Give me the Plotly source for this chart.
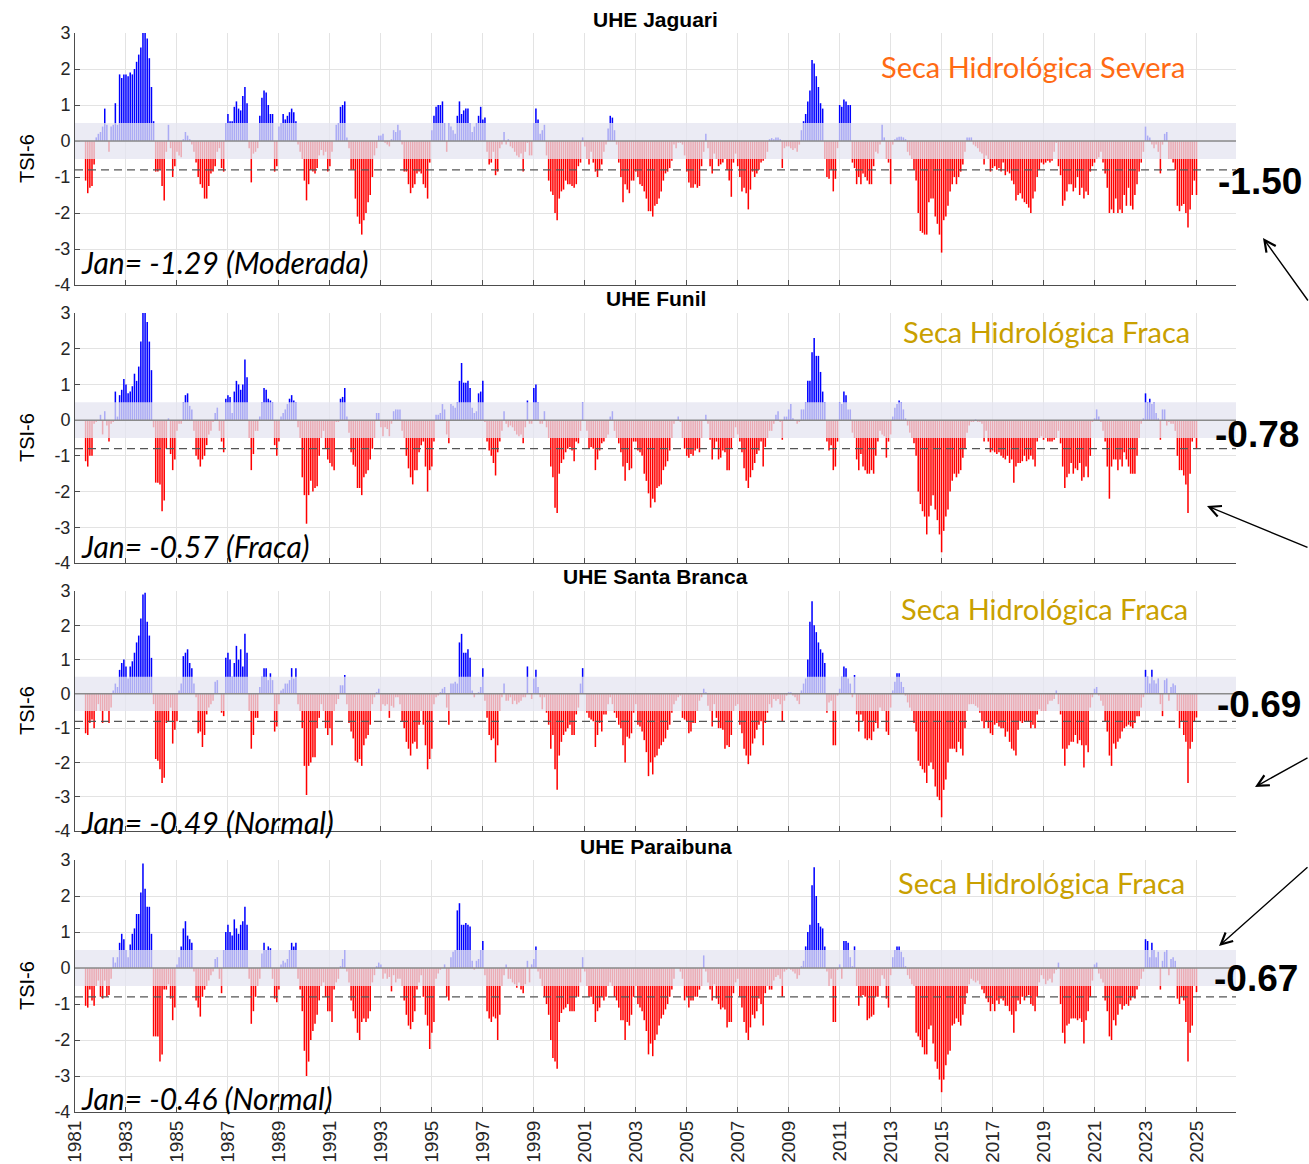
import plotly.graph_objects as go

# ---------------- DATA ----------------
start_year = 1981
odd_years = list(range(1981, 2026, 2))
y_tick_values = [-4, -3, -2, -1, 0, 1, 2, 3]
y_tick_labels = ["-4", "-3", "-2", "-1", "0", "1", "2", "3"]

station_names = ["UHE Jaguari", "UHE Funil", "UHE Santa Branca", "UHE Paraibuna"]
jan_texts = ["Jan= -1.29 (Moderada)", "Jan= -0.57 (Fraca)", "Jan= -0.49 (Normal)", "Jan= -0.46 (Normal)"]
class_texts = ["Seca Hidrológica Severa", "Seca Hidrológica Fraca", "Seca Hidrológica Fraca", "Seca Hidrológica Fraca"]
current_values = ["-1.50", "-0.78", "-0.69", "-0.67"]
normal_band = 0.5
drought_threshold = -0.8

N = None
tsi_jaguari = [
    [N, N, N, N, N, -1.1, -1.45, -1.3, -1.25, -0.65, 0.1, 0.2],  # 1981
    [0.25, 0.4, 0.9, 0.45, -0.3, 0.4, 0.45, 1.05, 0.45, 1.85, 1.75, 1.85],
    [1.85, 1.8, 1.9, 1.85, 2.0, 2.2, 2.4, 2.6, 3.0, 3.0, 2.85, 2.3],
    [1.5, 0.55, -0.85, -0.85, -0.8, -1.25, -1.65, -0.3, 0.45, -0.2, -1.0, -0.7],
    [-0.3, -0.4, -0.45, 0.05, 0.25, 0.15, 0.05, -0.1, -0.3, -0.6, -1.0, -1.2],  # 1985
    [-1.3, -1.6, -1.6, -1.25, -0.9, -0.85, -0.7, -0.3, -0.2, -0.75, -0.85, 0.5],
    [0.75, 0.55, 0.55, 0.95, 1.1, 0.9, 0.85, 1.25, 1.5, 1.05, -0.2, -1.15],
    [-0.35, -0.3, -0.2, 0.7, 1.2, 1.4, 1.35, 1.0, 0.75, 0.75, -0.85, -0.7],
    [0.4, 0.5, 0.75, 0.6, 0.7, 0.8, 0.9, 0.8, 0.55, -0.1, -0.3, -0.5],
    [-1.1, -1.65, -1.2, -0.8, -0.85, -0.9, -0.75, -0.4, -0.25, -0.4, -0.3, -0.85],  # 1990
    [-0.7, -0.3, 0.0, 0.45, 0.5, 0.95, 1.0, 1.1, 0.1, -0.2, -0.8, -0.8],
    [-1.6, -2.1, -2.3, -2.6, -2.2, -2.0, -1.7, -1.5, -1.0, -0.4, -0.2, 0.15],
    [0.15, 0.2, -0.05, -0.1, -0.15, 0.05, 0.3, 0.25, 0.45, 0.3, -0.1, -0.85],
    [-0.85, -1.2, -1.45, -1.3, -1.2, -0.9, -0.85, -0.9, -1.2, -1.3, -1.6, -0.6],
    [0.3, 0.7, 0.95, 1.0, 1.0, 1.1, 0.5, -0.3, 0.5, 0.4, 0.3, 0.2],  # 1995
    [0.7, 1.1, 0.75, 0.85, 0.9, 0.9, 0.5, 0.25, 0.4, 0.5, 0.7, 0.95],
    [0.6, 0.65, -0.3, -0.65, -0.6, -0.3, -0.95, -0.85, -0.2, -0.1, 0.25, -0.1],
    [0.05, -0.15, -0.2, -0.3, -0.4, -0.45, -0.35, -0.85, -0.3, -0.05, -0.4, -0.4],
    [0.5, 0.9, 0.6, 0.2, 0.3, 0.45, -0.4, -1.1, -1.4, -1.5, -2.0, -2.2],
    [-1.6, -1.4, -1.35, -1.1, -1.2, -1.2, -1.25, -1.3, -1.2, -0.7, -0.6, 0.1],  # 2000
    [-0.15, -0.5, -0.65, -0.3, -0.6, -0.85, -1.0, -0.8, -0.65, -0.3, -0.1, 0.35],
    [0.7, 0.65, 0.3, -0.1, -0.6, -1.0, -1.7, -1.2, -1.35, -1.45, -1.1, -1.1],
    [-0.85, -1.0, -1.2, -1.25, -1.4, -1.6, -1.95, -1.95, -2.1, -1.8, -1.75, -1.6],
    [-1.4, -1.1, -0.9, -0.85, -0.75, -0.55, -0.1, -0.2, -0.05, -0.05, -0.1, -0.4],
    [-0.85, -1.15, -1.3, -1.3, -1.2, -1.3, -1.25, -0.7, -0.3, 0.2, -0.2, -0.7],  # 2005
    [-0.9, -0.35, -0.5, -0.7, -0.65, -0.6, -0.5, -0.8, -1.1, -1.55, -0.6, -0.35],
    [-0.7, -1.0, -1.4, -1.3, -1.45, -1.9, -1.35, -0.85, -1.0, -0.9, -0.8, -0.6],
    [-0.55, -0.5, -0.3, 0.05, 0.08, 0.05, 0.1, 0.1, 0.05, -0.75, -0.2, -0.15],
    [-0.15, -0.2, -0.25, -0.2, -0.3, -0.1, 0.3, 0.55, 0.75, 1.1, 1.4, 2.25],
    [2.15, 1.8, 1.5, 1.05, 0.9, -0.5, -1.0, -1.05, -0.8, -1.4, -1.05, -0.2],  # 2010
    [1.0, 0.95, 1.15, 1.1, 1.0, 1.0, -0.6, -0.75, -1.2, -1.0, -1.2, -0.9],
    [-1.0, -1.1, -1.2, -1.2, -0.7, -0.3, -0.35, -0.1, 0.45, 0.1, -0.5, -0.6],
    [-1.2, -0.1, 0.05, 0.1, 0.12, 0.12, 0.1, 0.05, -0.3, -0.4, -0.5, -0.8],
    [-1.1, -2.0, -2.5, -2.55, -2.6, -2.6, -1.7, -1.6, -1.6, -2.1, -2.3, -2.6],
    [-3.1, -2.2, -2.1, -1.8, -1.4, -1.2, -1.0, -1.2, -1.0, -0.85, -0.65, -0.3],  # 2015
    [0.1, 0.1, 0.1, -0.1, -0.15, -0.2, -0.3, -0.35, -0.65, -0.4, -0.5, -0.85],
    [-0.75, -0.7, -0.8, -0.75, -0.85, -0.6, -0.95, -0.85, -0.9, -1.1, -1.2, -1.65],
    [-1.5, -1.45, -1.6, -1.7, -1.75, -1.85, -2.0, -1.6, -1.4, -1.0, -0.8, -0.6],
    [-0.65, -0.6, -0.55, -0.6, -0.55, -0.3, -0.05, -0.7, -0.95, -1.8, -1.65, -1.4],
    [-1.2, -1.2, -1.4, -1.3, -1.0, -1.5, -1.3, -1.6, -1.4, -1.5, -0.85, -0.7],  # 2020
    [-0.6, -0.5, -0.45, -0.3, -0.6, -0.9, -1.3, -2.0, -1.9, -2.0, -1.6, -2.0],
    [-1.9, -2.0, -1.5, -1.8, -1.3, -1.8, -1.9, -1.5, -1.2, -0.85, -0.6, -0.3],
    [0.4, 0.15, 0.1, -0.1, -0.2, -0.1, -0.3, -0.9, -0.1, 0.2, 0.25, -0.5],
    [-0.5, -0.6, -0.8, -1.8, -1.95, -1.8, -1.75, -2.0, -2.4, -1.9, -1.5, -1.1],
    [-1.5],  # 2025
]

tsi_funil = [
    [N, N, N, N, N, -1.15, -1.3, -1.0, -1.0, -0.1, -0.05, 0.0],  # 1981
    [0.15, -0.4, 0.25, -0.15, -0.6, -0.1, -0.05, 0.8, 0.1, 0.7, 0.85, 1.15],
    [1.0, 0.75, 0.8, 0.95, 1.3, 1.1, 1.5, 2.2, 3.0, 3.0, 2.75, 2.2],
    [1.4, -0.2, -1.75, -1.75, -1.8, -2.55, -2.25, -0.8, 0.05, -0.95, -1.4, -1.1],
    [-0.3, -0.1, -0.1, 0.5, 0.7, 0.75, 0.4, 0.3, -0.3, -1.0, -1.1, -1.3],  # 1985
    [-1.1, -1.0, -0.7, -0.4, -0.3, -0.05, 0.2, 0.35, -0.3, -0.6, -0.9, 0.6],
    [0.7, 0.65, 0.2, 0.8, 1.1, 1.0, 0.85, 1.0, 1.7, 1.2, -0.5, -1.4],
    [-0.95, -0.3, -0.3, 0.1, 0.5, 0.9, 0.85, 0.6, 0.55, 0.5, -0.7, -1.0],
    [-0.6, 0.1, 0.2, 0.3, 0.45, 0.6, 0.7, 0.55, 0.5, -0.2, -0.5, -1.6],
    [-2.1, -2.9, -2.1, -1.7, -2.0, -1.9, -1.85, -1.0, -0.5, -0.3, -0.8, -1.1],  # 1990
    [-1.2, -1.3, -1.4, -0.05, -0.05, 0.6, 0.65, 0.9, 0.1, -0.35, -0.9, -1.25],
    [-1.3, -1.9, -1.9, -2.1, -1.6, -1.5, -1.4, -1.1, -0.8, -0.5, 0.2, 0.2],
    [-0.2, -0.45, -0.2, -0.25, -0.45, -0.1, 0.25, 0.3, 0.3, 0.3, -0.3, -0.5],
    [-1.0, -1.35, -1.6, -1.8, -1.4, -1.4, -0.9, -0.7, -0.6, -1.3, -2.0, -1.4],
    [-1.3, -0.6, 0.15, 0.15, 0.2, 0.45, 0.3, -0.4, -0.65, 0.45, 0.4, 0.35],  # 1995
    [0.5, 1.1, 1.6, 1.05, 1.05, 1.1, 0.9, 0.35, 0.2, 0.25, 0.75, 0.8],
    [1.1, -0.05, -0.6, -0.85, -1.0, -1.2, -1.55, -0.9, -0.6, -0.3, 0.25, -0.1],
    [-0.2, -0.15, -0.2, -0.3, -0.4, -0.45, -0.4, -0.65, -0.2, 0.55, -0.1, -0.1],
    [0.9, 1.0, 0.5, -0.1, -0.1, 0.25, -0.2, -0.5, -1.3, -1.6, -2.45, -2.6],
    [-1.5, -1.2, -1.1, -0.9, -0.8, -0.75, -0.85, -1.15, -0.6, -0.65, -0.3, 0.5],  # 2000
    [0.0, -0.3, -0.8, -0.75, -0.8, -1.4, -1.1, -0.85, -0.65, -0.6, -0.5, -0.4],
    [0.1, 0.25, -0.3, -0.5, -0.65, -0.9, -1.3, -1.7, -1.2, -1.4, -1.35, -0.6],
    [-0.6, -0.85, -0.9, -1.0, -1.5, -1.7, -2.05, -2.45, -2.2, -2.3, -1.9, -1.85],
    [-1.8, -1.4, -1.3, -1.15, -0.85, -0.5, -0.1, 0.0, 0.1, -0.05, -0.5, -0.8],
    [-1.0, -1.05, -0.95, -1.0, -0.85, -0.8, -0.9, -0.5, 0.0, 0.15, -0.1, -0.55],  # 2005
    [-1.1, -0.8, -0.6, -1.1, -1.05, -0.85, -0.9, -1.4, -1.4, -0.8, -0.5, -0.2],
    [-0.4, -0.6, -0.9, -1.35, -1.7, -1.9, -1.6, -1.4, -1.2, -0.95, -0.85, -0.6],
    [-1.3, -0.75, -0.5, -0.3, -0.3, -0.1, 0.15, 0.25, -0.05, -0.55, 0.1, 0.1],
    [0.3, 0.45, 0.05, 0.0, -0.1, -0.05, 0.3, 0.3, 0.5, 1.1, 1.1, 1.9],
    [2.3, 1.8, 1.8, 1.35, 0.8, 0.5, -0.6, -0.85, -0.7, -1.4, -1.3, -0.6],  # 2010
    [0.5, 0.45, 0.8, 0.7, 0.3, 0.3, -0.35, -0.5, -1.1, -1.4, -0.95, -1.3],
    [-1.4, -1.5, -1.5, -1.4, -1.5, -1.0, -0.6, -0.3, -0.4, -0.45, -1.05, -0.6],
    [-0.4, 0.1, 0.35, 0.45, 0.55, 0.5, 0.3, 0.05, -0.15, -0.35, -0.5, -0.65],
    [-1.0, -2.0, -2.35, -2.55, -2.7, -3.2, -2.7, -2.4, -2.1, -2.5, -2.8, -3.2],
    [-3.7, -3.1, -2.7, -2.5, -2.0, -1.7, -1.5, -1.6, -1.5, -1.4, -1.05, -0.8],  # 2015
    [-0.35, -0.15, -0.05, -0.05, 0.02, -0.05, -0.05, -0.1, -0.6, -0.3, -0.6, -0.9],
    [-0.85, -0.9, -0.95, -0.9, -1.0, -1.05, -1.1, -1.0, -1.2, -1.1, -1.75, -1.3],
    [-1.2, -1.2, -1.15, -1.0, -1.15, -1.1, -1.0, -1.1, -1.3, -0.6, -0.5, -0.45],
    [-0.55, -0.5, -0.6, -0.6, -0.6, -0.55, -0.5, -0.3, -0.65, -1.3, -1.9, -1.6],
    [-1.5, -1.2, -1.5, -1.35, -1.4, -1.2, -1.7, -1.6, -1.3, -1.6, -1.0, -0.05],  # 2020
    [0.05, 0.3, 0.1, -0.05, -0.3, -0.6, -1.3, -2.2, -1.3, -1.1, -1.1, -1.4],
    [-1.1, -1.3, -0.9, -1.1, -1.3, -1.5, -1.5, -1.5, -1.0, -0.5, -0.1, 0.05],
    [0.75, 0.5, 0.6, 0.45, 0.5, 0.2, 0.05, -0.55, 0.3, 0.3, -0.15, -0.05],
    [-0.1, -0.1, -0.3, -1.0, -1.4, -1.4, -1.55, -1.8, -2.6, -1.5, -0.6, -0.5],
    [-0.78],  # 2025
]

tsi_santa_branca = [
    [N, N, N, N, N, -1.15, -1.2, -0.85, -0.75, -1.0, -0.5, -0.3],  # 1981
    [-0.5, -0.85, -0.5, -0.5, -0.85, -0.4, 0.1, 0.3, 0.2, 0.7, 0.9, 1.0],
    [0.8, 0.45, 0.8, 0.95, 1.2, 1.5, 1.7, 2.2, 2.9, 2.95, 2.1, 1.7],
    [1.05, -0.3, -1.9, -1.95, -2.2, -2.6, -2.45, -0.85, -0.8, -0.4, -1.45, -1.05],
    [-0.8, 0.1, 0.3, 1.1, 1.2, 1.3, 0.9, 0.75, 0.3, -0.1, -1.15, -1.1],  # 1985
    [-1.55, -1.2, -0.6, -0.4, -0.3, -0.2, 0.35, 0.4, 0.0, -0.55, -0.65, 1.05],
    [1.2, 1.0, 0.5, 0.9, 1.4, 1.0, 1.3, 0.8, 1.75, 1.2, -0.5, -1.6],
    [-1.2, -0.7, -0.7, 0.2, 0.5, 0.75, 0.75, 0.4, 0.6, 0.4, -1.1, -0.95],
    [-0.3, 0.1, 0.15, 0.3, 0.3, 0.4, 0.75, 0.45, 0.75, -0.3, -0.5, -1.0],
    [-2.1, -2.95, -2.1, -2.0, -1.85, -1.85, -1.0, -0.7, -0.3, -0.5, -1.0, -1.2],  # 1990
    [-1.0, -1.5, -0.5, -0.3, -0.15, 0.25, 0.25, 0.55, -0.3, -0.85, -1.1, -1.3],
    [-1.95, -2.0, -1.9, -2.1, -1.5, -1.3, -1.2, -0.9, -0.3, -0.1, 0.05, 0.15],
    [-0.5, -0.3, -0.35, -0.3, -0.7, -0.35, -0.4, -0.1, -0.1, -0.3, -0.8, -1.0],
    [-1.4, -1.6, -1.8, -1.45, -1.4, -1.6, -0.9, -0.5, -0.9, -1.5, -2.2, -1.9],
    [-1.6, -0.3, -0.1, -0.05, 0.05, 0.15, 0.2, -0.4, -0.9, 0.3, 0.3, 0.35],  # 1995
    [0.3, 1.5, 1.75, 1.2, 1.2, 1.3, 1.05, 0.1, -0.1, 0.0, 0.05, 0.2],
    [0.75, -0.2, -0.7, -1.2, -1.35, -1.3, -2.0, -1.5, -0.5, -0.1, 0.3, -0.2],
    [-0.2, -0.1, -0.3, -0.2, -0.3, -0.25, -0.2, -0.1, -0.1, 0.8, 0.0, -0.15],
    [0.45, 0.7, 0.2, -0.1, -0.45, -0.1, -0.55, -0.9, -1.6, -1.2, -2.2, -2.8],
    [-1.8, -1.4, -1.2, -1.1, -1.0, -0.9, -1.2, -1.2, -0.6, -0.4, 0.3, 0.75],  # 2000
    [0.0, -0.55, -0.7, -0.75, -0.8, -1.55, -1.2, -0.85, -1.1, -0.6, -0.6, -0.3],
    [-0.1, -0.3, -0.55, -0.7, -0.9, -1.0, -1.5, -2.0, -1.25, -1.3, -1.15, -0.55],
    [-0.3, -0.9, -0.95, -1.1, -1.35, -1.7, -2.4, -2.0, -2.35, -1.85, -1.8, -1.6],
    [-1.5, -1.4, -1.3, -1.05, -0.9, -0.55, -0.3, -0.2, -0.1, -0.05, -0.7, -0.75],
    [-0.8, -1.15, -1.1, -0.85, -0.85, -0.5, -0.2, -0.1, 0.15, 0.05, -0.35, -0.5],  # 2005
    [-0.95, -0.3, -0.7, -1.0, -1.0, -1.05, -1.6, -1.5, -1.55, -1.2, -0.5, -0.35],
    [-0.3, -0.9, -1.15, -1.6, -1.8, -2.05, -1.8, -1.45, -1.3, -1.05, -0.9, -0.8],
    [-1.5, -0.85, -0.55, -0.3, -0.4, -0.15, -0.2, -0.15, -0.3, -0.8, -0.2, -0.05],
    [0.05, 0.05, -0.05, -0.1, -0.2, -0.3, 0.1, 0.3, 0.45, 1.0, 2.1, 2.7],
    [2.0, 1.8, 1.5, 1.3, 1.2, 0.9, -0.55, -0.25, -0.2, -1.5, -1.5, -0.05],  # 2010
    [0.15, 0.5, 0.8, 0.75, 0.45, 0.3, -0.1, 0.55, -0.6, -1.1, -0.6, -0.8],
    [-1.3, -1.35, -1.3, -1.35, -1.1, -0.85, -1.0, -0.4, -0.5, -0.5, -1.1, -1.2],
    [-0.4, 0.1, 0.35, 0.6, 0.6, 0.35, 0.2, -0.05, -0.25, -0.4, -0.5, -0.85],
    [-1.1, -1.95, -2.1, -2.2, -2.3, -2.6, -2.1, -2.0, -2.2, -2.7, -3.0, -3.1],
    [-3.6, -2.8, -2.5, -2.0, -1.6, -1.6, -1.6, -1.7, -1.4, -1.6, -1.8, -1.0],  # 2015
    [-0.5, -0.3, -0.3, -0.3, -0.35, -0.4, -0.55, -0.8, -1.0, -0.8, -1.0, -1.15],
    [-1.2, -0.9, -0.85, -0.95, -1.0, -1.0, -1.25, -1.1, -1.4, -1.6, -1.65, -1.8],
    [-1.05, -0.8, -0.85, -0.8, -0.8, -0.8, -1.0, -0.9, -1.0, -0.6, -0.45, -0.5],
    [-0.5, -0.5, -0.3, -0.2, -0.2, -0.15, 0.1, -0.3, -0.6, -1.6, -2.1, -1.6],
    [-1.5, -1.4, -1.4, -1.2, -1.45, -1.35, -1.5, -2.15, -1.5, -1.7, -0.4, -0.1],  # 2020
    [0.15, 0.2, -0.05, -0.2, -0.35, -0.8, -1.1, -1.8, -2.1, -1.45, -1.6, -1.4],
    [-1.3, -1.1, -1.0, -0.95, -0.9, -0.95, -1.0, -0.85, -0.65, -0.65, -0.4, -0.1],
    [0.7, 0.5, 0.3, 0.7, 0.4, 0.3, 0.45, -0.3, -0.65, 0.4, 0.45, -0.2],
    [0.2, 0.3, 0.25, -0.5, -1.0, -0.8, -1.2, -1.4, -2.6, -1.6, -1.4, -0.8],
    [-0.69],  # 2025
]

tsi_paraibuna = [
    [N, N, N, N, N, -1.05, -1.1, -0.6, -0.9, -1.05, -0.5, -0.35],  # 1981
    [-0.8, -0.85, -0.35, -0.8, -0.75, -0.3, 0.3, 0.15, 0.3, 0.7, 0.95, 0.8],
    [0.5, 0.3, 0.65, 0.95, 1.1, 1.5, 1.5, 2.1, 2.9, 2.2, 1.7, 1.7],
    [0.95, -1.9, -1.9, -1.9, -2.6, -2.4, -0.6, -0.6, -0.45, -0.85, -1.45, -1.1],
    [0.1, 0.3, 0.6, 1.1, 1.3, 0.9, 0.8, 0.7, -0.1, -0.9, -1.1, -1.35],  # 1985
    [-0.8, -0.6, -0.5, -0.35, -0.2, -0.1, 0.25, 0.3, -0.3, -0.7, 0.5, 1.0],
    [1.2, 1.0, 0.9, 1.35, 1.1, 0.95, 1.2, 1.3, 1.7, 1.2, -0.3, -1.55],
    [-1.2, -0.8, -0.5, -0.3, 0.4, 0.7, 0.5, 0.6, 0.55, -0.3, -0.85, -0.95],
    [-0.6, 0.1, 0.2, 0.15, 0.25, 0.5, 0.7, 0.6, 0.7, -0.3, -0.6, -1.2],
    [-2.3, -3.0, -2.6, -2.0, -1.75, -1.55, -1.3, -0.9, -0.5, -0.4, -0.8, -1.2],  # 1990
    [-1.2, -1.5, -0.6, -0.4, -0.3, 0.05, 0.25, 0.5, -0.1, -0.4, -0.9, -1.2],
    [-1.4, -1.8, -2.0, -1.5, -1.4, -1.5, -1.4, -1.2, -0.4, -0.2, 0.05, 0.15],
    [0.1, -0.3, -0.15, -0.3, -0.25, -0.65, -0.2, -0.4, -0.3, -0.3, -0.5, -0.9],
    [-1.3, -1.6, -1.7, -1.5, -1.2, -0.6, -0.4, -0.2, -0.8, -1.3, -1.6, -2.25],
    [-1.8, -1.5, -0.3, -0.15, -0.05, 0.0, 0.1, -0.8, -0.9, 0.3, 0.45, 0.5],  # 1995
    [1.6, 1.8, 1.2, 1.2, 1.25, 1.2, 1.15, 0.2, -0.05, 0.2, 0.25, 0.5],
    [0.75, -0.2, -1.2, -1.4, -1.5, -1.35, -1.4, -2.0, -1.3, -0.5, -0.2, 0.1],
    [-0.3, -0.3, -0.4, -0.45, -0.55, -0.4, -0.6, -0.7, -0.45, 0.2, -0.4, 0.1],
    [0.25, 0.6, -0.1, -0.3, -0.5, -0.8, -1.0, -1.3, -2.0, -2.5, -2.6, -2.8],
    [-1.5, -1.25, -1.15, -1.1, -1.0, -1.2, -1.2, -1.2, -0.8, -0.8, -0.4, 0.3],  # 2000
    [-0.1, -0.5, -0.8, -0.8, -1.0, -1.5, -1.2, -1.1, -0.8, -0.9, -0.8, -0.5],
    [-0.4, -0.5, -0.8, -0.9, -1.1, -1.45, -1.45, -2.0, -1.5, -1.6, -1.3, -0.8],
    [-0.5, -1.0, -1.1, -1.2, -1.45, -1.75, -2.4, -2.1, -2.45, -2.0, -1.85, -1.6],
    [-1.4, -1.3, -1.15, -1.0, -0.8, -0.6, -0.3, 0.0, 0.0, -0.1, -0.3, -0.9],
    [-0.8, -1.1, -0.9, -0.9, -0.8, -0.8, -0.6, -0.5, 0.35, -0.1, -0.4, -0.6],  # 2005
    [-0.9, -0.45, -0.85, -1.0, -1.15, -1.1, -1.15, -1.65, -1.5, -1.5, -0.7, -0.4],
    [-0.3, -0.8, -1.1, -1.5, -1.8, -2.0, -1.65, -1.3, -1.4, -1.2, -0.85, -1.0],
    [-1.6, -0.7, -0.5, -0.6, -0.6, -0.35, -0.25, -0.2, -0.3, -0.8, -0.1, -0.05],
    [0.0, -0.05, -0.1, -0.15, -0.3, -0.2, 0.05, 0.2, 0.6, 1.0, 1.2, 2.3],
    [2.8, 2.0, 1.25, 1.15, 1.1, 0.6, -0.1, -0.5, -0.3, -1.5, -1.5, -0.05],  # 2010
    [0.1, -0.3, 0.75, 0.75, 0.7, 0.3, 0.05, 0.6, -0.5, -1.05, -0.8, -0.75],
    [-0.8, -1.45, -1.4, -1.35, -1.3, -0.8, -0.8, -0.5, -0.2, -0.3, -0.85, -1.1],
    [-0.2, 0.3, 0.5, 0.6, 0.6, 0.45, 0.3, 0.05, -0.2, -0.3, -0.45, -0.5],
    [-1.8, -1.9, -2.0, -2.2, -2.4, -2.4, -1.7, -1.6, -2.1, -2.6, -2.8, -3.1],
    [-3.45, -3.1, -2.7, -2.4, -2.3, -1.6, -1.55, -1.4, -1.5, -1.6, -1.3, -1.0],  # 2015
    [-0.7, -0.45, -0.3, -0.35, -0.4, -0.35, -0.45, -0.6, -0.7, -0.85, -0.95, -1.2],
    [-1.0, -1.2, -0.9, -1.0, -0.85, -0.9, -1.05, -1.05, -1.2, -1.3, -1.8, -1.2],
    [-0.9, -1.0, -0.8, -0.9, -0.8, -0.75, -1.0, -1.05, -1.2, -0.8, -0.4, -0.2],
    [-0.3, -0.45, -0.35, -0.3, -0.4, -0.15, -0.05, 0.15, -1.0, -1.8, -2.1, -1.6],
    [-1.55, -1.4, -1.4, -1.4, -1.45, -1.4, -1.5, -2.1, -1.45, -1.2, -0.8, -0.35],  # 2020
    [0.1, 0.15, -0.15, -0.3, -0.4, -0.9, -1.2, -1.9, -2.0, -1.45, -1.6, -1.3],
    [-1.0, -1.15, -1.05, -1.0, -1.05, -0.9, -0.8, -0.85, -0.6, -0.5, -0.3, -0.1],
    [0.8, 0.75, 0.3, 0.7, 0.5, 0.3, 0.45, -0.6, 0.2, 0.45, 0.5, -0.2],
    [0.25, 0.3, 0.2, -0.85, -1.0, -0.8, -0.9, -1.5, -2.6, -1.8, -1.6, -0.5],
    [-0.67],  # 2025
]

all_series = [tsi_jaguari, tsi_funil, tsi_santa_branca, tsi_paraibuna]

# ---------------- STYLE ----------------
W, H = 1309, 1164
PLOT_L, PLOT_R = 75, 1236
PANEL_PX = [(33, 285), (313, 563), (591, 831), (860, 1112)]
X_RANGE = [1981, 2026.55]
BLUE, RED = "#0000ff", "#ff0000"
class_colors = ["#ff6a13", "#c9a000", "#c9a000", "#c9a000"]
jan_y_px = [262, 546, 822, 1098]
class_pos_px = [(1033, 66), (1046, 331), (1044, 608), (1041, 882)]
val_pos_px = [(1260, 181), (1257, 434), (1259, 704), (1256, 978)]
title_y_px = [19, 298, 576, 846]
arrow_px = [((1263, 238), (47, 64)), ((1207, 506), (104, 42)),
            ((1255, 787), (56, -30)), ((1219, 946), (92, -80))]

TICK_FONT = dict(family="Liberation Sans, Arial", size=18, color="#262626")


def px_x(x):
    return x / W


def px_y(y):
    return 1 - y / H


fig = go.Figure()
layout = dict(
    width=W, height=H, margin=dict(l=0, r=0, t=0, b=0, pad=0, autoexpand=False),
    paper_bgcolor="white", plot_bgcolor="white", showlegend=False,
    shapes=[], annotations=[],
)

for k, series in enumerate(all_series):
    n = k + 1
    sfx = "" if n == 1 else str(n)
    xs, ys, cols = [], [], []
    for yi, row in enumerate(series):
        for m, v in enumerate(row):
            if v is None:
                continue
            xs.append(start_year + yi + m / 12.0)
            ys.append(v)
            cols.append(BLUE if v > 0 else RED)
    fig.add_trace(go.Bar(
        x=xs, y=ys, width=0.72 / 12,
        marker=dict(color=cols, line=dict(width=0)),
        xaxis="x" + sfx, yaxis="y" + sfx, hoverinfo="skip",
    ))
    top, bot = PANEL_PX[k]
    layout["xaxis" + sfx] = dict(
        domain=[px_x(PLOT_L), px_x(PLOT_R)], anchor="y" + sfx, range=X_RANGE,
        tickmode="array", tickvals=odd_years, ticktext=[str(y) for y in odd_years],
        showticklabels=(n == 4), tickangle=-90, tickfont=dict(TICK_FONT, size=19),
        ticks="inside", ticklen=5, tickcolor="#4d4d4d", automargin=False,
        showgrid=True, gridcolor="#e3e3e3", gridwidth=1,
        showline=True, linecolor="#4d4d4d", linewidth=1, zeroline=False,
    )
    layout["yaxis" + sfx] = dict(
        domain=[px_y(bot), px_y(top)], anchor="x" + sfx, range=[-4, 3],
        tickmode="array", tickvals=y_tick_values, ticktext=y_tick_labels,
        tickfont=TICK_FONT, ticks="inside", ticklen=5, tickcolor="#4d4d4d", automargin=False,
        showgrid=True, gridcolor="#e3e3e3", gridwidth=1,
        showline=True, linecolor="#4d4d4d", linewidth=1, zeroline=False,
    )
    xr = "x" + sfx + " domain"
    yr = "y" + sfx
    layout["shapes"] += [
        dict(type="rect", xref=xr, yref=yr, x0=0, x1=1, y0=-normal_band, y1=normal_band,
             fillcolor="rgb(228,228,240)", opacity=0.75, line=dict(width=0), layer="above"),
        dict(type="line", xref=xr, yref=yr, x0=0, x1=1, y0=0, y1=0,
             line=dict(color="#8a8a8a", width=1.5), layer="above"),
        dict(type="line", xref=xr, yref=yr, x0=0, x1=1, y0=drought_threshold, y1=drought_threshold,
             line=dict(color="#555555", width=1.2, dash="8px,5px"), layer="above"),
    ]
    ann = layout["annotations"]
    ann.append(dict(text="<b>" + station_names[k] + "</b>", xref="paper", yref="paper",
                    x=px_x((PLOT_L + PLOT_R) / 2), y=px_y(title_y_px[k]), showarrow=False,
                    xanchor="center", yanchor="middle",
                    font=dict(family="Liberation Sans, Arial", size=21, color="black")))
    ann.append(dict(text="TSI-6", xref="paper", yref="paper", textangle=-90,
                    x=px_x(27), y=px_y((top + bot) / 2), showarrow=False,
                    xanchor="center", yanchor="middle",
                    font=dict(family="Liberation Sans, Arial", size=20, color="black")))
    ann.append(dict(text=jan_texts[k], xref="paper", yref="paper",
                    x=px_x(79), y=px_y(jan_y_px[k]), showarrow=False,
                    xanchor="left", yanchor="middle",
                    font=dict(family="Lato", size=30, color="black", style="italic")))
    cx, cy = class_pos_px[k]
    ann.append(dict(text=class_texts[k], xref="paper", yref="paper",
                    x=px_x(cx), y=px_y(cy), showarrow=False,
                    xanchor="center", yanchor="middle",
                    font=dict(family="Lato", size=29, color=class_colors[k])))
    vx, vy = val_pos_px[k]
    ann.append(dict(text="<b>" + current_values[k] + "</b>", xref="paper", yref="paper",
                    x=px_x(vx), y=px_y(vy), showarrow=False,
                    xanchor="center", yanchor="middle",
                    font=dict(family="Liberation Sans, Arial", size=37, color="black")))
    (hx, hy), (dx, dy) = arrow_px[k]
    ann.append(dict(text="", xref="paper", yref="paper", x=px_x(hx), y=px_y(hy),
                    ax=dx, ay=dy, showarrow=True, arrowhead=5, arrowsize=1.6,
                    arrowwidth=1.4, arrowcolor="black"))

fig.update_layout(**layout)
fig.write_html(
    "out.html",
    config={"displayModeBar": False, "staticPlot": True},
    post_script="document.body.style.margin='0';document.body.style.overflow='hidden';",
)
